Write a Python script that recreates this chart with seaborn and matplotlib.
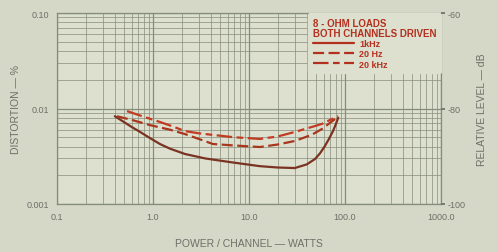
import numpy as np
import pandas as pd
import seaborn as sns
import matplotlib
matplotlib.use("Agg")
import matplotlib.pyplot as plt
from matplotlib.ticker import LogLocator, NullFormatter, FixedLocator, FixedFormatter

# ---- data ----
power_1k = [0.40, 0.5, 0.6, 0.73, 0.9, 1.18, 1.5, 2.15, 3.5, 6.3, 10, 13, 20, 30, 40, 48.7, 55, 61.8, 68, 75, 80, 85]
dist_1k = [0.0083, 0.0072, 0.0064, 0.0057, 0.0050, 0.00425, 0.0038, 0.00334, 0.0030, 0.00275, 0.00258,
           0.00249, 0.00241, 0.00238, 0.0026, 0.00296, 0.0034, 0.00405, 0.0048, 0.0058, 0.0068, 0.0080]

power_20 = [0.42, 0.6, 0.93, 1.5, 2.15, 3, 4.2, 7, 13, 20, 30, 45, 57.5, 70, 85]
dist_20 = [0.0083, 0.0076, 0.0067, 0.0060, 0.0054, 0.0048, 0.00425, 0.0041, 0.00395, 0.0042, 0.00457,
           0.0053, 0.0061, 0.0071, 0.0082]

power_20k = [0.536, 0.8, 1.18, 1.6, 2.15, 3, 4.2, 7, 13, 20, 30, 45, 57.5, 70, 85]
dist_20k = [0.0094, 0.0082, 0.00723, 0.0065, 0.0058, 0.0055, 0.00529, 0.0050, 0.0048, 0.0051, 0.00568,
            0.0064, 0.0069, 0.0076, 0.0083]

series_labels = ["1kHz", "20 Hz", "20 kHz"]
x_ticks = [0.1, 1, 10, 100, 1000]
x_ticklabels = ["0.1", "1.0", "10.0", "100.0", "1000.0"]
y_ticks = [0.001, 0.01, 0.1]
y_ticklabels = ["0.001", "0.01", "0.10"]
db_ticklabels = ["-100", "-80", "-60"]

df = pd.concat([
    pd.DataFrame({"power": power_1k, "dist": dist_1k, "freq": series_labels[0]}),
    pd.DataFrame({"power": power_20, "dist": dist_20, "freq": series_labels[1]}),
    pd.DataFrame({"power": power_20k, "dist": dist_20k, "freq": series_labels[2]}),
])

# ---- style ----
fig_bg = "#d5d8c6"
ax_bg = "#dde0cf"
grid_c = "#858d79"
text_c = "#6e6f68"
red = "#b4301e"

sns.set_theme(style="white")
plt.rcParams["font.family"] = ["Liberation Sans", "DejaVu Sans"]

fig = plt.figure(figsize=(4.97, 2.53), dpi=100, facecolor=fig_bg)
ax = fig.add_axes([57/497, 1-205/253, (441-57)/497, (205-14)/253])
ax.set_facecolor(ax_bg)

palette = {series_labels[0]: "#7a3322", series_labels[1]: "#a8361c", series_labels[2]: "#c23a22"}
dashes = {series_labels[0]: "", series_labels[1]: (5, 2), series_labels[2]: (7, 2, 3, 2)}
sns.lineplot(data=df, x="power", y="dist", hue="freq", style="freq",
             palette=palette, dashes=dashes, sort=False, estimator=None,
             linewidth=1.6, ax=ax, legend=False)

ax.set_xscale("log")
ax.set_yscale("log")
ax.set_xlim(0.1, 1000)
ax.set_ylim(0.001, 0.1)

ax.xaxis.set_major_locator(FixedLocator(x_ticks))
ax.xaxis.set_major_formatter(FixedFormatter(x_ticklabels))
ax.yaxis.set_major_locator(FixedLocator(y_ticks))
ax.yaxis.set_major_formatter(FixedFormatter(y_ticklabels))
ax.xaxis.set_minor_locator(LogLocator(base=10, subs=np.arange(2, 10)))
ax.yaxis.set_minor_locator(LogLocator(base=10, subs=np.arange(2, 10)))
ax.xaxis.set_minor_formatter(NullFormatter())
ax.yaxis.set_minor_formatter(NullFormatter())

ax.grid(True, which="major", color=grid_c, linewidth=0.9)
ax.grid(True, which="minor", color=grid_c, linewidth=0.55, alpha=0.9)
ax.set_axisbelow(True)
for s in ax.spines.values():
    s.set_color(grid_c)
    s.set_linewidth(0.9)

ax.tick_params(axis="both", which="both", length=0, colors=text_c, labelsize=6.5, pad=6)

ax.set_xlabel("POWER / CHANNEL \u2014 WATTS", color=text_c, fontsize=7.5, labelpad=12)
ax.set_ylabel("DISTORTION \u2014 %", color=text_c, fontsize=7.5, labelpad=4)

ax2 = ax.twinx()
ax2.set_yscale("log")
ax2.set_ylim(0.001, 0.1)
ax2.yaxis.set_major_locator(FixedLocator(y_ticks))
ax2.yaxis.set_major_formatter(FixedFormatter(db_ticklabels))
ax2.yaxis.set_minor_locator(FixedLocator([]))
ax2.tick_params(axis="y", length=3, colors=text_c, labelsize=6.5, pad=2)
ax2.set_ylabel("RELATIVE LEVEL \u2014 dB", color=text_c, fontsize=7.5, labelpad=8)
for s in ax2.spines.values():
    s.set_visible(False)

# legend
handles = [ax.lines[i] for i in range(3)]
leg = ax.legend(handles, series_labels, loc="upper right",
                title="8 - OHM LOADS\nBOTH CHANNELS DRIVEN",
                frameon=True, fontsize=6.5, title_fontsize=7,
                handlelength=4.5, handletextpad=0.6, labelspacing=0.15,
                borderaxespad=0.0, borderpad=0.5, alignment="left")
leg.get_frame().set_facecolor(ax_bg)
leg.get_frame().set_edgecolor(ax_bg)
leg.get_frame().set_alpha(1.0)
leg.get_title().set_color(red)
leg.get_title().set_fontweight("bold")
leg.get_title().set_linespacing(1.0)
for t in leg.get_texts():
    t.set_color(red)
    t.set_fontweight("bold")
for h in leg.legend_handles:
    h.set_color(red)
    h.set_linewidth(1.6)

fig.savefig("out.png", dpi=100, facecolor=fig_bg)
